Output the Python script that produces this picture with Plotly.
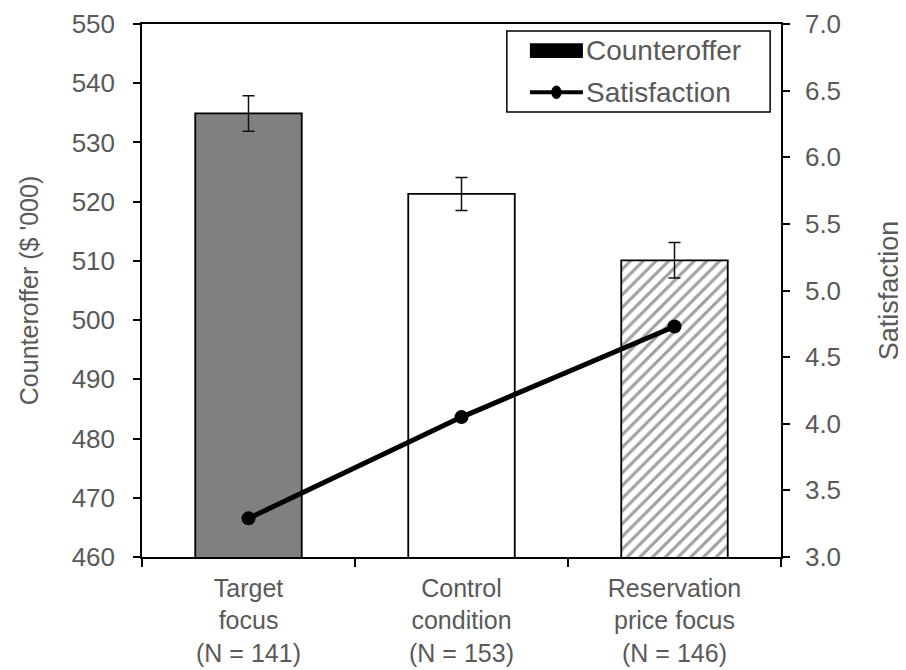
import plotly.graph_objects as go

categories = ["Target<br>focus<br>(N = 141)", "Control<br>condition<br>(N = 153)", "Reservation<br>price focus<br>(N = 146)"]
counteroffer = [534.9, 521.3, 510.1]
counteroffer_err = [3.0, 2.8, 3.0]
satisfaction = [3.29, 4.05, 4.73]
left_ticks = [460, 470, 480, 490, 500, 510, 520, 530, 540, 550]
right_ticks = [3.0, 3.5, 4.0, 4.5, 5.0, 5.5, 6.0, 6.5, 7.0]

FONT = "Liberation Sans, Arial, sans-serif"
TXT = "#595959"
FS = 26

fig = go.Figure()
fig.add_trace(go.Bar(
    x=categories, y=counteroffer, width=0.5,
    marker=dict(
        color=["#808080", "#ffffff", "#ffffff"],
        line=dict(color="#000000", width=1.8),
        pattern=dict(shape=["", "", "/"], fgcolor="#8c8c8c", bgcolor="#ffffff", size=9, solidity=0.35),
    ),
    error_y=dict(type="data", array=counteroffer_err, color="#111111", thickness=1.5, width=6),
    showlegend=False, name="Counteroffer",
))
fig.add_trace(go.Scatter(
    x=categories, y=satisfaction, yaxis="y2", mode="lines+markers",
    line=dict(color="#000000", width=5), marker=dict(color="#000000", size=14),
    showlegend=False, name="Satisfaction",
))

axis_common = dict(
    showline=True, linecolor="#000000", linewidth=1.5, automargin=False,
    ticks="outside", ticklen=7, tickcolor="#000000", tickwidth=1.5,
    showgrid=False, zeroline=False,
    tickfont=dict(family=FONT, size=FS, color=TXT),
)

fig.update_layout(
    width=906, height=670,
    margin=dict(l=134, r=133, t=16, b=121),
    paper_bgcolor="#ffffff", plot_bgcolor="#ffffff",
    font=dict(family=FONT, size=FS, color=TXT),
    xaxis=dict(
        type="category", tickson="boundaries", mirror=True, automargin=False,
        showline=True, linecolor="#000000", linewidth=1.5,
        ticks="outside", ticklen=8, tickcolor="#000000", tickwidth=1.5,
        showgrid=False, ticklabelstandoff=8,
        tickfont=dict(family=FONT, size=25, color=TXT),
    ),
    yaxis=dict(
        range=[460, 550], tickvals=left_ticks, ticktext=[str(v) for v in left_ticks],
        ticklabelstandoff=13,
        title=dict(text="Counteroffer ($ '000)", font=dict(family=FONT, size=25, color=TXT), standoff=26),
        **axis_common,
    ),
    yaxis2=dict(
        range=[3.0, 7.0], tickvals=right_ticks, ticktext=[f"{v:.1f}" for v in right_ticks],
        overlaying="y", side="right", ticklabelstandoff=10,
        title=dict(text="Satisfaction", font=dict(family=FONT, size=27, color=TXT), standoff=39),
        **axis_common,
    ),
    showlegend=False,
)

# custom legend (paper coordinates)
fig.add_shape(type="rect", xref="paper", yref="paper", x0=0.571, x1=0.983, y0=0.835, y1=0.987,
              line=dict(color="#000000", width=1.5), fillcolor="#ffffff", layer="above")
fig.add_shape(type="rect", xref="paper", yref="paper", x0=0.607, x1=0.690, y0=0.936, y1=0.964,
              line=dict(width=0), fillcolor="#000000")
fig.add_shape(type="line", xref="paper", yref="paper", x0=0.607, x1=0.690, y0=0.872, y1=0.872,
              line=dict(color="#000000", width=4))
fig.add_shape(type="circle", xref="paper", yref="paper", x0=0.6405, x1=0.6565, y0=0.8595, y1=0.8845,
              line=dict(width=0), fillcolor="#000000")
fig.add_annotation(xref="paper", yref="paper", x=0.692, y=0.951, text="Counteroffer", showarrow=False,
                   xanchor="left", yanchor="middle", font=dict(family=FONT, size=28, color=TXT))
fig.add_annotation(xref="paper", yref="paper", x=0.692, y=0.872, text="Satisfaction", showarrow=False,
                   xanchor="left", yanchor="middle", font=dict(family=FONT, size=28, color=TXT))

fig.write_html("out.html")
